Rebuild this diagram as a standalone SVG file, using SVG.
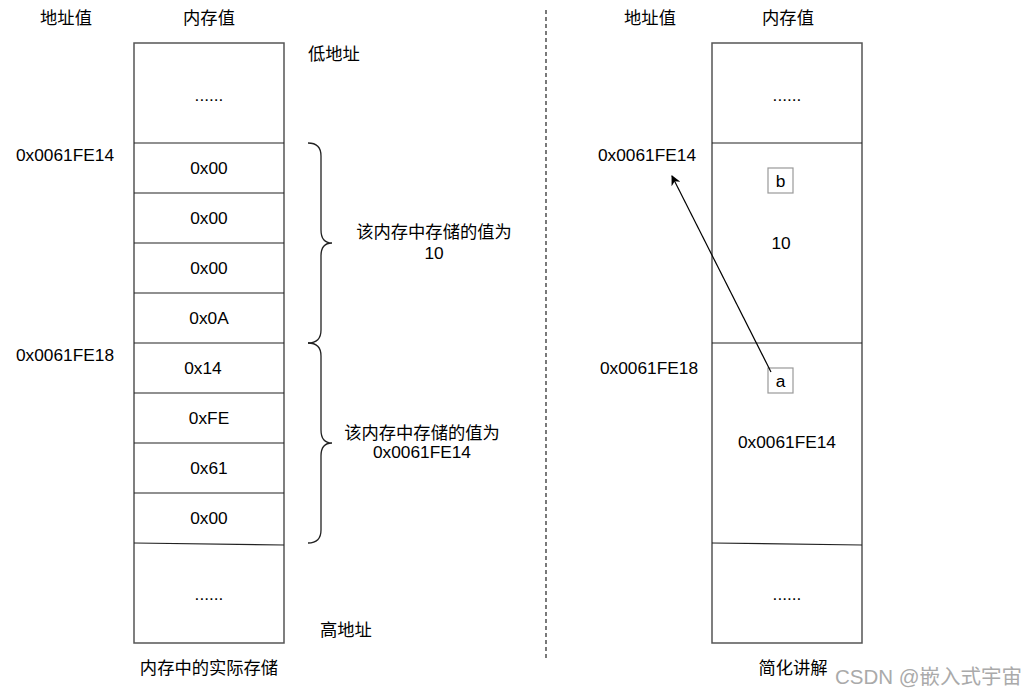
<svg xmlns="http://www.w3.org/2000/svg" width="1035" height="696" viewBox="0 0 1035 696">
<defs>
<style>
text{font-family:"Liberation Sans","Noto Sans CJK SC",sans-serif;font-size:17.3px;fill:#000}
.c{text-anchor:middle}
.box{fill:#fff;stroke:#555;stroke-width:1.5}
.div{stroke:#222;stroke-width:1.2;fill:none}
.brace{stroke:#222;stroke-width:1.3;fill:none}
.var{fill:#fff;stroke:#999;stroke-width:1.2}
</style>
<marker id="ah" markerWidth="10" markerHeight="10" refX="9" refY="5" orient="auto" markerUnits="userSpaceOnUse">
<path d="M0,0 L10,5 L0,10 L3,5 Z" fill="#000"/>
</marker>
</defs>
<rect width="1035" height="696" fill="#fff"/>

<g id="left-memory">
<rect class="box" x="134" y="43" width="150" height="600"/>
<path class="div" d="M134,143H284M134,193H284M134,243H284M134,293H284M134,343H284M134,393H284M134,443H284M134,493H284M134,543L284,545"/>
<text class="c" x="209" y="101">......</text>
<text class="c" x="209" y="174">0x00</text>
<text class="c" x="209" y="224">0x00</text>
<text class="c" x="209" y="274">0x00</text>
<text class="c" x="209" y="324">0x0A</text>
<text class="c" x="203" y="374">0x14</text>
<text class="c" x="209" y="424">0xFE</text>
<text class="c" x="209" y="474">0x61</text>
<text class="c" x="209" y="524">0x00</text>
<text class="c" x="209" y="600">......</text>
</g>

<g id="left-labels">
<text class="c" x="66" y="24">地址值</text>
<text class="c" x="209" y="24">内存值</text>
<text x="308" y="60">低地址</text>
<text x="320" y="636">高地址</text>
<text x="16" y="161">0x0061FE14</text>
<text x="16" y="361">0x0061FE18</text>
<text class="c" x="209" y="674">内存中的实际存储</text>
</g>

<g id="brace1">
<path class="brace" d="M308,143 Q321,143 321,156 V230 Q321,243 332,243 Q321,243 321,256 V330 Q321,343 308,343"/>
<text class="c" x="434" y="238">该内存中存储的值为</text>
<text class="c" x="434" y="259">10</text>
</g>

<g id="brace2">
<path class="brace" d="M308,343 Q321,343 321,356 V430 Q321,443 332,443 Q321,443 321,456 V530 Q321,543 308,543"/>
<text class="c" x="422" y="439">该内存中存储的值为</text>
<text class="c" x="422" y="458">0x0061FE14</text>
</g>

<g id="separator">
<line x1="546" y1="10" x2="546" y2="658" stroke="#222" stroke-width="1.2" stroke-dasharray="4,3"/>
</g>

<g id="right-memory">
<rect class="box" x="712" y="43" width="150" height="600"/>
<path class="div" d="M712,143H862M712,343H862M712,543L862,545"/>
<text class="c" x="787" y="101">......</text>
<text class="c" x="781" y="249">10</text>
<text class="c" x="787" y="448">0x0061FE14</text>
<text class="c" x="787" y="600">......</text>
</g>

<g id="var-b">
<rect class="var" x="768" y="168" width="25" height="25"/>
<text class="c" x="780.5" y="187">b</text>
</g>

<g id="var-a">
<rect class="var" x="768" y="368" width="25" height="25"/>
<text class="c" x="780.5" y="387">a</text>
</g>

<g id="right-labels">
<text class="c" x="650" y="24">地址值</text>
<text class="c" x="788" y="24">内存值</text>
<text x="598" y="161">0x0061FE14</text>
<text x="600" y="374">0x0061FE18</text>
<text class="c" x="793" y="674">简化讲解</text>
</g>

<g id="connectors">
<line x1="771" y1="372" x2="672" y2="176" stroke="#000" stroke-width="1.2" marker-end="url(#ah)"/>
</g>

<text x="835" y="684" style="fill:#aaa;font-size:20.5px">CSDN @嵌入式宇宙</text>
</svg>
